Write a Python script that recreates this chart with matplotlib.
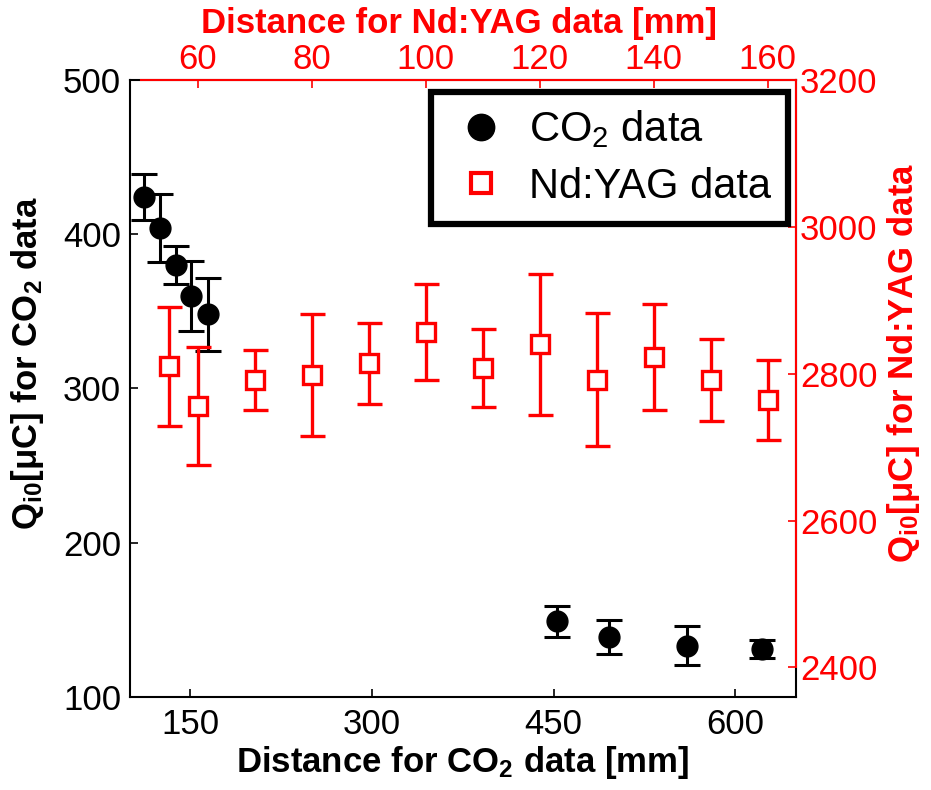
import matplotlib
matplotlib.use("Agg")
import matplotlib.pyplot as plt
from matplotlib.lines import Line2D

plt.rcParams['font.family'] = ['Liberation Sans', 'DejaVu Sans']
plt.rcParams['mathtext.fontset'] = 'custom'
plt.rcParams['mathtext.rm'] = 'Liberation Sans'
plt.rcParams['mathtext.it'] = 'Liberation Sans:italic'
plt.rcParams['mathtext.bf'] = 'Liberation Sans:bold'
plt.rcParams['mathtext.default'] = 'regular'

# CO2 laser data (bottom / left axes)
co2_dist = [112, 125, 138, 151, 165, 453, 496, 560, 622]
co2_q = [424, 404, 380, 360, 348, 149, 138.5, 133, 131]
co2_err = [15, 22, 12.5, 22.5, 23.5, 10, 11, 12.7, 6]

# Nd:YAG laser data (top / right axes)
yag_dist = [55, 60, 70, 80, 90, 100, 110, 120, 130, 140, 150, 160]
yag_q = [2810, 2756, 2791, 2798, 2814, 2857, 2808, 2840, 2792, 2823, 2791, 2764]
yag_err = [81, 80, 41, 83, 55, 65, 53, 96, 91, 72, 56, 54]

red = '#ff0000'
fig = plt.figure(figsize=(9.31, 7.90), dpi=100)
pos = [0.1391, 0.1181, 0.7159, 0.7806]

ax = fig.add_axes(pos)
ax.errorbar(co2_dist, co2_q, yerr=co2_err, fmt='o', color='black', ms=15,
            elinewidth=2.2, capsize=9.5, capthick=2.2, zorder=3)
ax.set_xlim(100, 650)
ax.set_ylim(100, 500)
ax.set_xticks([150, 300, 450, 600])
ax.set_yticks([100, 200, 300, 400, 500])
ax.tick_params(direction='in', length=6, width=1.2, labelsize=25)
ax.tick_params(axis='x', pad=8)
ax.tick_params(axis='y', pad=6)
for s in ax.spines.values():
    s.set_linewidth(1.5)
ax.set_xlabel('Distance for CO$_2$ data [mm]', fontsize=25, fontweight='bold')
ax.set_ylabel('Q$_{i0}$[$\\mu$C] for CO$_2$ data', fontsize=25, fontweight='bold')
ax.xaxis.set_label_coords(0.5, -0.077)
ax.yaxis.set_label_coords(-0.125, 0.541)

# second pair of axes for the Nd:YAG series
ax2 = fig.add_axes(pos)
ax2.patch.set_visible(False)
ax2.errorbar(yag_dist, yag_q, yerr=yag_err, fmt='s', color=red, ms=13,
             mfc='white', mec=red, mew=2.4, elinewidth=2.4, capsize=9,
             capthick=2.4, zorder=3)
ax2.set_xlim(48, 165)
ax2.set_ylim(2360, 3200)
ax2.set_xticks([60, 80, 100, 120, 140, 160])
ax2.set_yticks([2400, 2600, 2800, 3000, 3200])
ax2.xaxis.tick_top()
ax2.yaxis.tick_right()
ax2.xaxis.set_label_position('top')
ax2.yaxis.set_label_position('right')
ax2.spines['left'].set_visible(False)
ax2.spines['bottom'].set_visible(False)
ax2.spines['top'].set_color(red)
ax2.spines['right'].set_color(red)
ax2.spines['top'].set_linewidth(1.5)
ax2.spines['right'].set_linewidth(1.5)
ax2.spines['top'].set_bounds(50, 165)
ax2.spines['right'].set_bounds(2400, 3200)
ax2.tick_params(direction='in', length=6, width=1.2, labelsize=25, colors=red, pad=3)
ax2.set_xlabel('Distance for Nd:YAG data [mm]', fontsize=25, fontweight='bold', color=red)
ax2.set_ylabel('Q$_{i0}$[$\\mu$C] for Nd:YAG data', fontsize=25, fontweight='bold', color=red)
ax2.xaxis.set_label_coords(0.494, 1.076)
ax2.yaxis.set_label_coords(1.134, 0.541)

handles = [Line2D([], [], ls='none', marker='o', color='black', ms=19),
           Line2D([], [], ls='none', marker='s', color=red, ms=14, mfc='white', mew=3)]
leg = ax2.legend(handles, ['CO$_2$ data', 'Nd:YAG data'], loc='upper right',
                 bbox_to_anchor=(0.8464, 0.8839), bbox_transform=fig.transFigure,
                 fontsize=30, frameon=True, fancybox=False, framealpha=1,
                 borderpad=0.4, handletextpad=0.35, handlelength=1.6,
                 labelspacing=0.4, borderaxespad=0)
leg.get_frame().set_edgecolor('black')
leg.get_frame().set_linewidth(4.5)

fig.savefig('out.png', dpi=100)
